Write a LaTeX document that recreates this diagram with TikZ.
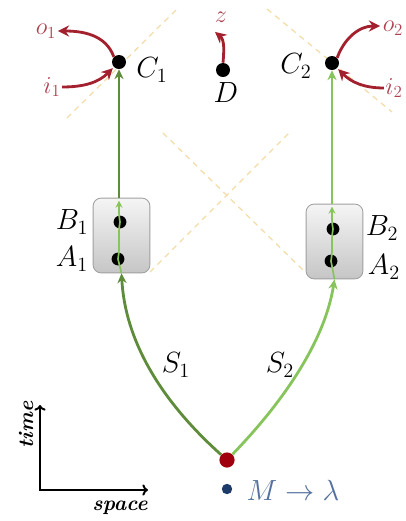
\documentclass[tikz,border=0pt]{standalone}
\usepackage{amsmath}
\usepackage{amssymb}
\usepackage{tikz}
\usepackage{xcolor}
\usetikzlibrary{arrows.meta, positioning, calc}
\definecolor{FlowDark}{HTML}{5E8C3A}
\definecolor{FlowLight}{HTML}{88C45C}
\definecolor{SigRed}{HTML}{A3202E}
\definecolor{SigLabel}{HTML}{B04050}
\definecolor{SrcRed}{HTML}{A0000E}
\definecolor{SrcBlue}{HTML}{1C3B6B}
\definecolor{SrcLabel}{HTML}{5571A0}
\definecolor{ConeYellow}{HTML}{F3DDA8}

\tikzset{
  event/.style={circle, fill=black, inner sep=0pt, minimum size=0.35cm},
  lab/.style={inner sep=1pt, font=\fontsize{20}{24}\selectfont},
  siglab/.style={inner sep=1pt, text=SigLabel, font=\fontsize{17}{20}\selectfont},
  axlab/.style={inner sep=1pt, font=\fontsize{15}{18}\selectfont\bfseries\itshape},
  lab box/.style={draw=gray!75, line width=0.6pt, rounded corners=0.2cm,
    top color=gray!8, bottom color=gray!45, minimum width=1.42cm, minimum height=1.87cm},
  cone/.style={ConeYellow, line width=0.9pt, dash pattern=on 4pt off 3.5pt},
  flowdark/.style={FlowDark, line width=2pt, -{Stealth[length=7pt,width=6.5pt]}},
  flowlight/.style={FlowLight, line width=2pt, -{Stealth[length=7pt,width=6.5pt]}},
  innerflow/.style={FlowLight, line width=1.2pt, -{Stealth[length=5pt,width=5pt]}},
  sig/.style={SigRed, line width=2pt, -{Stealth[length=8pt,width=8pt]}},
  axis/.style={black, line width=1.4pt, {To[length=4pt,width=8pt]}-{To[length=4pt,width=8pt]}}
}

\begin{document}
\begin{tikzpicture}[x=0.025cm, y=-0.025cm]
  \useasboundingbox (0,0) rectangle (406,521);

  % light cones
  \draw[cone] (67,118) -- (178,8);
  \draw[cone] (267,9) -- (392,112);
  \draw[cone] (150,272) -- (290,132);
  \draw[cone] (163,133) -- (303,270);

  % labs
  \node[lab box] (box1) at (121.5,235.5) {};
  \node[lab box] (box2) at (334.5,241.5) {};

  % events
  \node[event] (C1) at (119,62) {};
  \node[event] (C2) at (332,63) {};
  \node[event] (D) at (223,70) {};
  \node[event, minimum size=0.32cm] (B1) at (120,222) {};
  \node[event, minimum size=0.32cm] (A1) at (118,259) {};
  \node[event, minimum size=0.32cm] (B2) at (333,229) {};
  \node[event, minimum size=0.32cm] (A2) at (331,261) {};
  \node[event, fill=SrcRed, minimum size=0.38cm] (src) at (227,460) {};
  \node[event, fill=SrcBlue, minimum size=0.26cm] (key) at (227,489) {};

  % labels
  \node[lab] (C1lbl) at (152,70) {$C_1$};
  \node[lab] (C2lbl) at (296,66) {$C_2$};
  \node[lab] (Dlbl) at (226,93) {$D$};
  \node[lab] (B1lbl) at (72,222) {$B_1$};
  \node[lab] (A1lbl) at (72,259) {$A_1$};
  \node[lab] (B2lbl) at (382,228) {$B_2$};
  \node[lab] (A2lbl) at (384,267) {$A_2$};
  \node[lab] (S1lbl) at (176,365) {$S_1$};
  \node[lab] (S2lbl) at (280,365) {$S_2$};
  \node[lab, text=SrcLabel, anchor=west] (keylbl) at (245,490) {$M\to\lambda$};
  \node[siglab] (o1) at (46,31) {$o_1$};
  \node[siglab] (i1) at (52,87) {$i_1$};
  \node[siglab] (z) at (221,17) {$z$};
  \node[siglab] (o2) at (393,28) {$o_2$};
  \node[siglab] (i2) at (394,88) {$i_2$};

  % signals
  \draw[flowdark] (src) .. controls (160,400) and (125,340) .. (box1.south);
  \draw[flowlight] (src) .. controls (285,400) and (325,340) .. (box2.south);
  \draw[innerflow] (box1.south) -- (A1.center) to[out=80,in=-100] (B1.center)
    to[out=100,in=-90] ($(C1 |- box1.north)+(0,3)$);
  \draw[innerflow] (box2.south) -- (A2.center) to[out=80,in=-100] (B2.center)
    to[out=100,in=-90] ($(C2 |- box2.north)+(0,3)$);
  \draw[flowdark] (C1 |- box1.north) -- (C1);
  \draw[flowlight] (C2 |- box2.north) -- (C2);

  % inputs and outputs
  \draw[sig] (C1.north west) to[out=110,in=0] (o1.east);
  \draw[sig, shorten >=1pt] (i1.east) to[out=0,in=225] (C1.south west);
  \draw[sig] (D.north) to[out=85,in=-40] ($(z.south)+(-6,8)$);
  \draw[sig] (C2.north east) to[out=70,in=180] ($(o2.west)+(-1,-2)$);
  \draw[sig, shorten >=1pt] (i2.west) to[out=180,in=-45] (C2.south east);

  % axes
  \coordinate (origin) at (40,490);
  \coordinate (timeend) at (40,405);
  \coordinate (spaceend) at (148,490);
  \draw[axis] (timeend) |- (spaceend);
  \node[axlab, rotate=90] (timelbl) at (26,425) {time};
  \node[axlab] (spacelbl) at (120,508) {space};
\end{tikzpicture}
\end{document}
